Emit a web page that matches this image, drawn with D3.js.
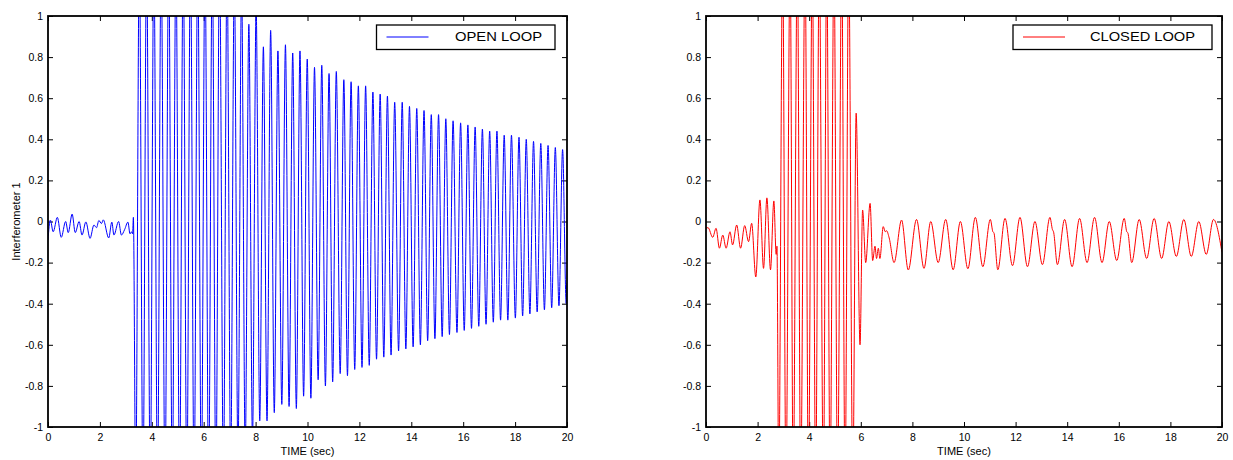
<!DOCTYPE html>
<html>
<head>
<meta charset="utf-8">
<script src="https://cdn.jsdelivr.net/npm/d3@7"></script>
<style>
  body { margin: 0; background: #fff; }
  text { font-family: "Liberation Sans", Arial, sans-serif; }
</style>
</head>
<body>
<div id="chart"></div>
<script>
// axis ticks
var xTicks = [0, 2, 4, 6, 8, 10, 12, 14, 16, 18, 20];
var yTicks = [-1, -0.8, -0.6, -0.4, -0.2, 0, 0.2, 0.4, 0.6, 0.8, 1];

// open loop trace: [time (sec), value], peaks and troughs
var openLoop = [
  [0, -0.09], [0.09, 0.007], [0.2, -0.05], [0.36, 0.02], [0.51, -0.077], [0.68, 0.0],
  [0.78, -0.054], [0.93, 0.036], [1.05, -0.054], [1.2, 0.0], [1.31, -0.066], [1.46, -0.002],
  [1.62, -0.082], [1.77, -0.017], [1.87, -0.03], [1.96, 0.005], [2.06, -0.01], [2.13, 0.008],
  [2.34, -0.08], [2.46, -0.003], [2.54, -0.066], [2.72, 0.0], [2.83, -0.066], [2.95, -0.04],
  [3.08, -0.003], [3.16, -0.06], [3.22, -0.05], [3.26, -0.06], [3.29, 0.02],
  [3.38, -1.3], [3.52, 1.3], [3.66, -1.3], [3.80, 1.3], [3.94, -1.3], [4.08, 1.3],
  [4.22, -1.3], [4.36, 1.3], [4.51, -1.3], [4.65, 1.3], [4.79, -1.3], [4.93, 1.3],
  [5.07, -1.3], [5.21, 1.3], [5.35, -1.3], [5.49, 1.3], [5.63, -1.3], [5.77, 1.3],
  [5.91, -1.3], [6.05, 1.3], [6.19, -1.3], [6.33, 1.3], [6.47, -1.3], [6.61, 1.3],
  [6.76, -1.25], [6.90, 1.25], [7.04, -1.2], [7.18, 1.2], [7.32, -1.15], [7.46, 1.15],
  [7.60, -1.12], [7.74, 0.96], [7.88, -1.06], [8.02, 1.04], [8.16, -0.97], [8.30, 0.85],
  [8.44, -0.97], [8.58, 0.93], [8.72, -0.93], [8.86, 0.83], [9.01, -0.89], [9.15, 0.86],
  [9.29, -0.90], [9.43, 0.82], [9.57, -0.91], [9.71, 0.83], [9.85, -0.85], [9.99, 0.79],
  [10.13, -0.86], [10.27, 0.75], [10.41, -0.77], [10.55, 0.76], [10.69, -0.80], [10.83, 0.72],
  [10.97, -0.78], [11.11, 0.73], [11.26, -0.74], [11.40, 0.69], [11.54, -0.75], [11.68, 0.68],
  [11.82, -0.72], [11.96, 0.66], [12.10, -0.71], [12.24, 0.66], [12.38, -0.70], [12.52, 0.63],
  [12.66, -0.67], [12.80, 0.62], [12.94, -0.66], [13.08, 0.61], [13.22, -0.65], [13.36, 0.58],
  [13.51, -0.63], [13.65, 0.58], [13.79, -0.62], [13.93, 0.56], [14.07, -0.61], [14.21, 0.55],
  [14.35, -0.60], [14.49, 0.54], [14.63, -0.58], [14.77, 0.52], [14.91, -0.57], [15.05, 0.52],
  [15.19, -0.56], [15.33, 0.50], [15.47, -0.55], [15.61, 0.49], [15.76, -0.54], [15.90, 0.48],
  [16.04, -0.53], [16.18, 0.47], [16.32, -0.52], [16.46, 0.46], [16.60, -0.51], [16.74, 0.45],
  [16.88, -0.50], [17.02, 0.44], [17.16, -0.49], [17.30, 0.44], [17.44, -0.48], [17.58, 0.42],
  [17.72, -0.48], [17.86, 0.42], [18.01, -0.47], [18.15, 0.41], [18.29, -0.46], [18.43, 0.40],
  [18.57, -0.45], [18.71, 0.39], [18.85, -0.44], [18.99, 0.38], [19.13, -0.43], [19.27, 0.37],
  [19.41, -0.42], [19.55, 0.36], [19.69, -0.41], [19.83, 0.35], [19.97, -0.40], [20.0, -0.3]
];

// closed loop trace
var closedLoop = [
  [0, -0.033], [0.08, -0.03], [0.26, -0.077], [0.39, -0.033], [0.52, -0.13], [0.65, -0.066],
  [0.78, -0.13], [0.93, -0.05], [1.03, -0.114], [1.19, -0.017], [1.34, -0.13], [1.5, -0.02],
  [1.65, -0.098], [1.77, -0.009], [1.93, -0.27], [2.09, 0.105], [2.23, -0.228], [2.36, 0.115],
  [2.5, -0.235], [2.63, 0.1], [2.72, -0.16], [2.75, -0.12],
  [2.82, -1.3], [2.97, 1.3], [3.10, -1.3], [3.26, 1.3], [3.38, -1.3], [3.54, 1.3],
  [3.67, -1.3], [3.84, 1.3], [3.97, -1.3], [4.12, 1.3], [4.25, -1.3], [4.39, 1.3],
  [4.55, -1.3], [4.68, 1.3], [4.81, -1.3], [4.96, 1.3], [5.10, -1.3], [5.26, 1.3],
  [5.39, -1.3], [5.53, 1.3], [5.69, -1.3], [5.82, 0.527], [5.97, -0.6],
  [6.07, 0.056], [6.19, -0.2], [6.36, 0.088], [6.46, -0.19], [6.55, -0.12], [6.61, -0.18],
  [6.68, -0.13], [6.74, -0.18], [6.87, -0.025], [6.95, -0.05], [7.0, -0.045], [7.1, -0.08],
  [7.29, -0.2], [7.58, 0.007], [7.84, -0.236], [8.16, 0.01], [8.45, -0.228], [8.71, 0.0],
  [9.0, -0.2], [9.29, 0.01], [9.58, -0.235], [9.86, 0.0], [10.15, -0.23], [10.44, 0.02],
  [10.73, -0.22], [11.02, 0.01], [11.12, -0.05], [11.16, -0.055], [11.31, -0.235], [11.59, 0.015],
  [11.88, -0.215], [12.17, 0.02], [12.46, -0.22], [12.75, 0.0], [13.04, -0.21], [13.33, 0.02],
  [13.43, -0.04], [13.47, -0.05], [13.62, -0.21], [13.90, 0.01], [14.19, -0.22], [14.48, 0.015],
  [14.77, -0.2], [15.06, 0.02], [15.35, -0.2], [15.63, 0.0], [15.92, -0.19], [16.21, 0.015],
  [16.31, -0.05], [16.35, -0.055], [16.5, -0.2], [16.79, 0.01], [17.08, -0.18], [17.37, 0.015],
  [17.66, -0.18], [17.94, 0.0], [18.23, -0.17], [18.52, 0.01], [18.81, -0.17], [19.10, 0.0],
  [19.39, -0.16], [19.67, 0.01], [20.0, -0.15]
];

var W = 1233, H = 460;
var plotTop = 16, plotBottom = 427;

var svg = d3.select("#chart").append("svg")
    .attr("width", W)
    .attr("height", H);

function drawPanel(p) {
  var x = d3.scaleLinear().domain([0, 20]).range([p.left, p.right]);
  var y = d3.scaleLinear().domain([-1, 1]).range([plotBottom, plotTop]);
  var g = svg.append("g");

  // axes, ticks point inward like the matlab box
  function tidy(sel) {
    sel.select(".domain").remove();
    sel.attr("font-size", 10.5)
       .attr("font-family", '"Liberation Sans", Arial, sans-serif');
    sel.selectAll("line").attr("stroke", "#000");
    sel.selectAll("text").attr("fill", "#000");
  }
  g.append("g")
      .attr("transform", "translate(0," + plotBottom + ")")
      .call(d3.axisBottom(x).tickValues(xTicks).tickSizeInner(-5).tickSizeOuter(0)
            .tickPadding(6.5).tickFormat(function (d) { return String(d); }))
      .call(tidy);
  g.append("g")
      .attr("transform", "translate(0," + plotTop + ")")
      .call(d3.axisTop(x).tickValues(xTicks).tickSizeInner(-5).tickSizeOuter(0)
            .tickFormat(""))
      .call(tidy);
  g.append("g")
      .attr("transform", "translate(" + p.left + ",0)")
      .call(d3.axisLeft(y).tickValues(yTicks).tickSizeInner(-5).tickSizeOuter(0)
            .tickPadding(5).tickFormat(function (d) { return String(d); }))
      .call(tidy);
  g.append("g")
      .attr("transform", "translate(" + p.right + ",0)")
      .call(d3.axisRight(y).tickValues(yTicks).tickSizeInner(-5).tickSizeOuter(0)
            .tickFormat(""))
      .call(tidy);

  // the trace
  g.append("clipPath").attr("id", p.id + "-clip")
    .append("rect")
      .attr("x", p.left).attr("y", plotTop)
      .attr("width", p.right - p.left).attr("height", plotBottom - plotTop);

  var line = d3.line()
      .x(function (d) { return x(d[0]); })
      .y(function (d) { return y(d[1]); })
      .curve(d3.curveMonotoneX);

  g.append("path")
      .datum(p.data)
      .attr("clip-path", "url(#" + p.id + "-clip)")
      .attr("fill", "none")
      .attr("stroke", p.color)
      .attr("stroke-width", 1)
      .attr("d", line);

  // frame
  g.append("rect")
      .attr("x", p.left).attr("y", plotTop)
      .attr("width", p.right - p.left).attr("height", plotBottom - plotTop)
      .attr("fill", "none")
      .attr("stroke", "#000")
      .attr("stroke-width", 1.8);

  // x label
  g.append("text")
      .attr("x", (p.left + p.right) / 2)
      .attr("y", 455)
      .attr("text-anchor", "middle")
      .attr("font-size", 11)
      .text("TIME (sec)");

  if (p.ylabel) {
    g.append("text")
        .attr("transform", "translate(20," + ((plotTop + plotBottom) / 2) + ") rotate(-90)")
        .attr("text-anchor", "middle")
        .attr("font-size", 11)
        .text(p.ylabel);
  }

  // legend
  var lg = g.append("g");
  lg.append("rect")
      .attr("x", p.legend.x).attr("y", 25)
      .attr("width", p.legend.w).attr("height", 24.5)
      .attr("fill", "#fff")
      .attr("stroke", "#000")
      .attr("stroke-width", 1.3);
  lg.append("line")
      .attr("x1", p.legend.x + 10).attr("x2", p.legend.x + 52)
      .attr("y1", 37).attr("y2", 37)
      .attr("stroke", p.color)
      .attr("stroke-width", 1);
  lg.append("text")
      .attr("x", p.legend.tx)
      .attr("y", 41)
      .attr("font-size", 13)
      .attr("textLength", p.legend.tw)
      .attr("lengthAdjust", "spacingAndGlyphs")
      .text(p.label);
}

drawPanel({id: "open", left: 48, right: 567, data: openLoop, color: "#0000ff",
           label: "OPEN LOOP", ylabel: "Interferometer 1",
           legend: {x: 376.5, w: 178.5, tx: 455, tw: 87}});
drawPanel({id: "closed", left: 706, right: 1222, data: closedLoop, color: "#ff0000",
           label: "CLOSED LOOP", ylabel: null,
           legend: {x: 1013, w: 199, tx: 1090, tw: 105}});
</script>
</body>
</html>
